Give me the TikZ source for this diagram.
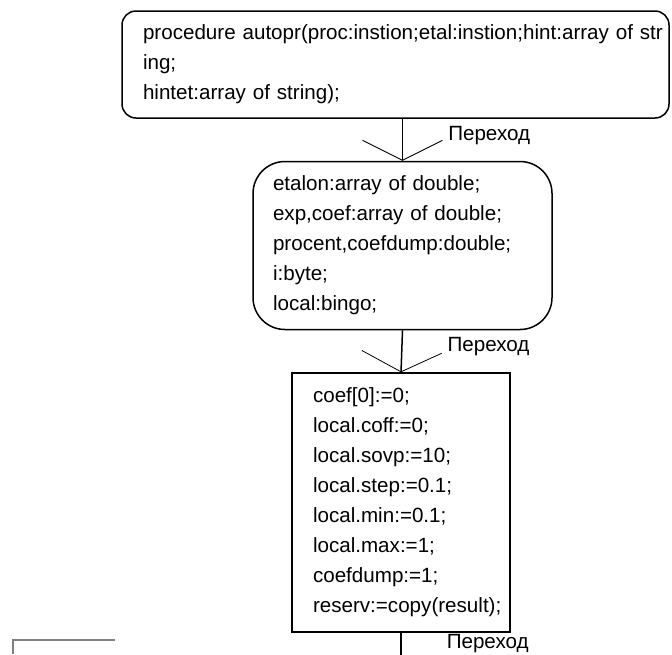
\documentclass[tikz,border=0pt]{standalone}
\usepackage{fontspec}
\setmainfont{Liberation Sans}
\usetikzlibrary{positioning,arrows.meta}
\definecolor{edgegray}{RGB}{128,128,128}

\begin{document}
\begin{tikzpicture}[
    x=0.5pt, y=-0.5pt,
    font=\fontsize{10.3}{15}\selectfont,
    node distance=21pt,
    head/.style={draw, line width=0.75pt, rounded corners=7pt, align=left,
                 inner xsep=10.5pt, inner ysep=2pt, text width=252.5pt,
                 minimum width=273.5pt, minimum height=53.5pt},
    decl/.style={draw, line width=0.75pt, rounded corners=16pt, align=left,
                 inner xsep=10pt, inner ysep=2pt, text width=129.5pt,
                 minimum width=149.5pt, minimum height=84pt},
    act/.style={draw, line width=0.75pt, align=left,
                inner xsep=10.5pt, inner ysep=2pt, text width=88pt,
                minimum width=109pt, minimum height=129.5pt},
    arr/.style={line width=0.75pt,
                -{Straight Barb[length=10pt, width=40pt, line width=0.4pt]}},
    lbl/.style={pos=0.39, right=22.5pt, inner sep=0pt}
  ]
  \useasboundingbox (0,0) rectangle (672,654);
  \node[head] (proc) at (395.5,64.5)
    {\mbox{procedure autopr(proc:instion;etal:instion;hint:array of str}\\
     ing;\\
     hintet:array of string);};
  \node[decl, below=of proc, xshift=3.5pt] (vars)
    {etalon:array of double;\\
     exp,coef:array of double;\\
     procent,coefdump:double;\\
     i:byte;\\
     local:bingo;};
  \node[act, below=of vars, xshift=-0.75pt] (init)
    {coef[0]:=0;\\
     local.coff:=0;\\
     local.sovp:=10;\\
     local.step:=0.1;\\
     local.min:=0.1;\\
     local.max:=1;\\
     coefdump:=1;\\
     \mbox{reserv:=copy(result);}};
  \coordinate[below=32pt of init] (next);
  % transitions
  \draw[arr] (vars.north |- proc.south) -- node[lbl]{Переход} (vars.north);
  \draw[arr] (vars.south) -- node[lbl]{Переход} (init.north);
  \draw[arr] (init.south) -- node[lbl, pos=0.17]{Переход} (next);
  % corner of the next block
  \draw[edgegray, line width=1pt] (13,654) -- (13,640) -- (115,640);
\end{tikzpicture}
\end{document}
